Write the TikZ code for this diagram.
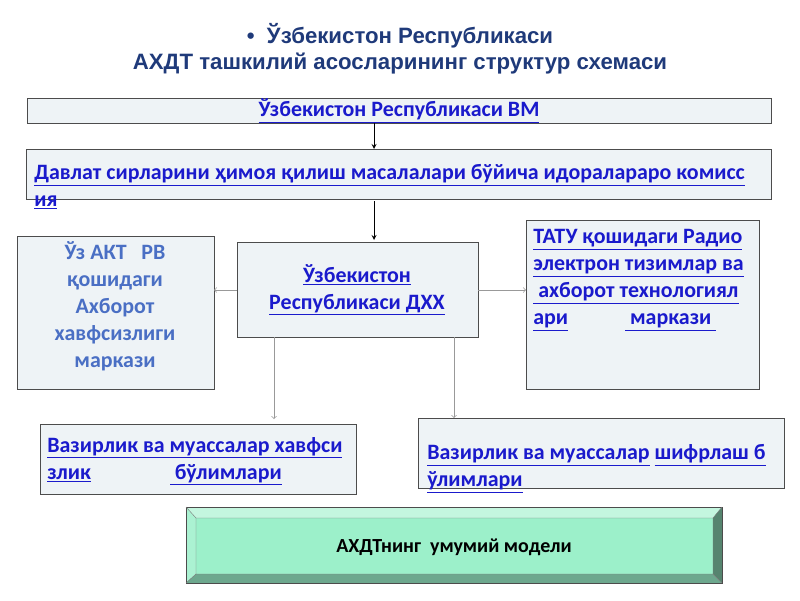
\documentclass[tikz,border=0pt]{standalone}
\usepackage{fontspec}
\setmainfont{Carlito}
\newfontfamily\titlefont{Liberation Sans}
\usetikzlibrary{positioning, calc}

\newcommand\lnk[1]{\underline{#1}}

\definecolor{linkblue}{HTML}{1A1ACC}
\definecolor{headblue}{HTML}{1F3A7A}
\definecolor{paleblue}{HTML}{4A6FC4}
\definecolor{boxfill}{HTML}{EEF3F6}
\definecolor{mint}{HTML}{9CF0CA}

\tikzset{
  unit/.style={draw=black!70, fill=boxfill, line width=0.7pt},
  label/.style={font=\fontsize{15.6}{19.2}\selectfont\bfseries, text=linkblue, inner sep=0pt},
  feed/.style={->, >=stealth, black, line width=0.6pt},
  side/.style={->, black!40, line width=0.5pt}
}

\begin{document}
\begin{tikzpicture}[x=0.025cm, y=-0.025cm]
    \useasboundingbox (0,0) rectangle (800,600);

    % Title
    \node (title) at (400,49) [align=center, text=headblue,
      font=\titlefont\fontsize{15.8}{18.5}\selectfont\bfseries]
      {\textbullet\ \ Ўзбекистон Республикаси\\ АХДТ ташкилий асосларининг структур схемаси};

    % Boxes
    \draw[unit] (27,98) rectangle (771,123);
    \node (vm) [label] at (399,111) {\lnk{Ўзбекистон Республикаси ВМ}};

    \draw[unit] (26,149) rectangle (771,199);
    \node (commission) [label, anchor=north west, align=left] at (34,164)
      {\lnk{Давлат сирларини ҳимоя қилиш масалалари бўйича идоралараро комисс}\\\lnk{ия}};

    \draw[unit] (17,236) rectangle (214,389);
    \node (aktcenter) [label, text=paleblue, align=center] at (115,306)
      {Ўз АКТ \ \ РВ\\ қошидаги\\ Ахборот\\ хавфсизлиги\\ маркази};

    \draw[unit] (237,242) rectangle (478,337);
    \node (dxx) [label, align=center] at (357,290)
      {\lnk{Ўзбекистон}\\ \lnk{Республикаси ДХХ}};

    \draw[unit] (526,220) rectangle (759,389);
    \node (tatu) [label, anchor=north west, align=left] at (533,229)
      {\lnk{ТАТУ қошидаги Радио}\\ \lnk{электрон тизимлар ва}\\ \lnk{\ ахборот технологиял}\\ \lnk{ари}\hspace{2.6em}\lnk{\ маркази\ }};

    \draw[unit] (40,424) rectangle (356,494);
    \node (security) [label, anchor=north west, align=left] at (47,437)
      {\lnk{Вазирлик ва муассалар хавфси}\\ \lnk{злик}\hspace{3.6em}\lnk{\ бўлимлари}};

    \draw[unit] (418,418) rectangle (784,488);
    \node (cipher) [label, anchor=north west, align=left] at (427,444)
      {\lnk{Вазирлик ва муассалар} \lnk{шифрлаш б}\\ \lnk{ўлимлари}};

    % Bevelled model box
    \fill[mint!75!black] (186,507) rectangle (722,583);
    \fill[mint!60!white] (186,507) -- (722,507) -- (713,518) -- (196,518) -- cycle;
    \fill[mint!85!white] (186,507) -- (196,518) -- (196,574) -- (186,583) -- cycle;
    \fill[mint!55!black] (722,507) -- (713,518) -- (713,574) -- (722,583) -- cycle;
    \fill[mint!70!black] (186,583) -- (196,574) -- (713,574) -- (722,583) -- cycle;
    \fill[mint] (196,518) rectangle (713,574);
    \draw[black!70, line width=0.5pt] (186,507) rectangle (722,583);
    \draw[black!50, line width=0.3pt] (196,518) rectangle (713,574)
      (186,507) -- (196,518) (722,507) -- (713,518) (186,583) -- (196,574) (722,583) -- (713,574);
    \node (model) at (454,547) [font=\fontsize{14.2}{16}\selectfont\bfseries] {АХДТнинг \ умумий модели};

    % Connectors
    \coordinate (vmB) at (374,123);
    \coordinate (comT) at (374,149);
    \coordinate (comB) at (374,201);
    \coordinate (dxxT) at (374,240);
    \draw[feed] (vmB) -- (comT);
    \draw[feed] (comB) -- (dxxT);
    \draw[side] (237,290) coordinate (dxxL) -- (214,290) coordinate (aktR);
    \draw[side] (478,290) coordinate (dxxR) -- (526,290) coordinate (tatuL);
    \draw[side] (274,337) coordinate (dxxB1) -- (274,419) coordinate (secT);
    \draw[side] (454,337) coordinate (dxxB2) -- (454,418) coordinate (ciphT);
\end{tikzpicture}
\end{document}
